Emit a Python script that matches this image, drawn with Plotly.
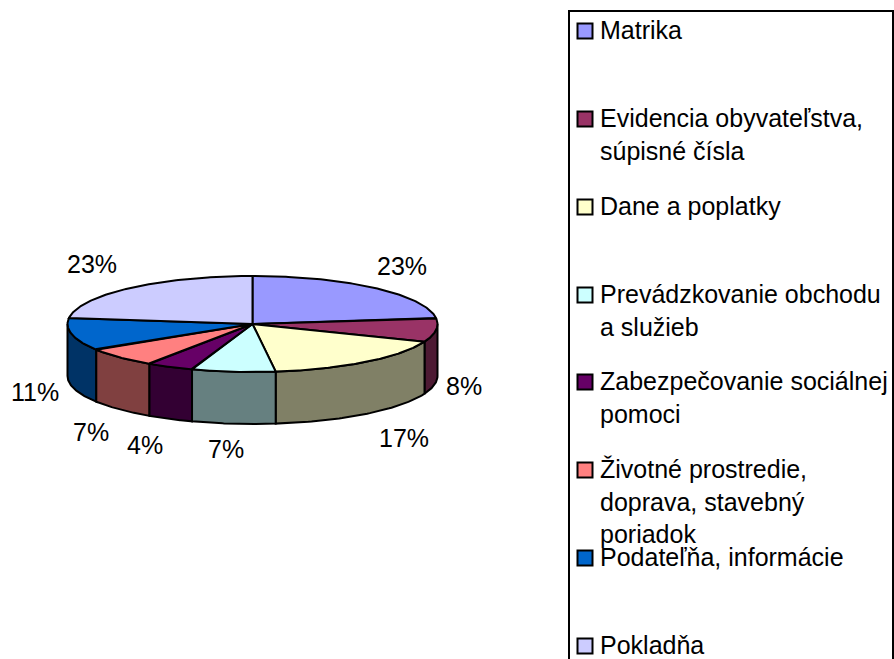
import numpy as np
import plotly.graph_objects as go

# ---- data ----
categories = ["Matrika", "Evidencia obyvateľstva,<br>súpisné čísla", "Dane a poplatky",
              "Prevádzkovanie obchodu<br>a služieb", "Zabezpečovanie sociálnej<br>pomoci",
              "Životné prostredie,<br>doprava, stavebný<br>poriadok",
              "Podateľňa, informácie", "Pokladňa"]
shares = [23, 8, 17, 7.3, 4.1, 6.6, 11, 23]
top_colors = ["#9999FF", "#993366", "#FFFFCC", "#CCFFFF", "#660066", "#FF8080", "#0066CC", "#CCCCFF"]
side_colors = ["#4D4D80", "#4D1A33", "#808066", "#668080", "#330033", "#804040", "#003366", "#666680"]

# ---- layout constants (pixels) ----
W, H = 894, 659
CX, CY, RX, RY, DEPTH = 252.5, 324, 185, 48, 52
OUT = 2
FONT = "Liberation Sans, Arial, sans-serif"
FS = 25
pct_positions = [(402, 266), (464, 386), (404, 438), (226, 449), (145, 445), (91, 432), (35, 392), (92, 264)]
legend_rows = [31, 119, 207, 295, 382, 470, 558, 646]
LEG_BOX = (569, 11, 893, 680)
LEG_SW_X, LEG_TXT_X, LEG_SW = 585, 598, 15


def pt(a, dy=0.0):
    return CX + RX * np.sin(a), CY - RY * np.cos(a) + dy


fig = go.Figure()
edges = np.cumsum([0] + shares) / sum(shares) * 2 * np.pi
slices = list(zip(edges[:-1], edges[1:], top_colors, side_colors))


def poly(x, y, color):
    fig.add_trace(go.Scatter(x=x, y=y, mode="lines", fill="toself", fillcolor=color,
                             line=dict(color="black", width=OUT), hoverinfo="skip", showlegend=False))


# side walls (only the front half of the rim is visible), drawn from the outside in
order = sorted(range(len(slices)), key=lambda i: abs((slices[i][0] + slices[i][1]) / 2 - np.pi), reverse=True)
for i in order:
    a0, a1, _, side = slices[i]
    lo, hi = max(a0, np.pi / 2), min(a1, 3 * np.pi / 2)
    if hi <= lo:
        continue
    t = np.linspace(lo, hi, 60)
    xt, yt = pt(t)
    xb, yb = pt(t[::-1], DEPTH)
    poly(np.r_[xt, xb, xt[0]], np.r_[yt, yb, yt[0]], side)

# top faces
for a0, a1, top, _ in slices:
    t = np.linspace(a0, a1, 120)
    xt, yt = pt(t)
    poly(np.r_[CX, xt, CX], np.r_[CY, yt, CY], top)

annotations = []
for v, (x, y) in zip(shares, pct_positions):
    annotations.append(dict(x=x, y=y, text=f"{round(v)}%", showarrow=False, xanchor="center", yanchor="middle",
                            font=dict(family=FONT, size=FS, color="black")))

# legend frame and entries
shapes = [dict(type="rect", x0=LEG_BOX[0], y0=LEG_BOX[1], x1=LEG_BOX[2], y1=LEG_BOX[3],
               line=dict(color="black", width=2), fillcolor="white", layer="below")]
fig.add_trace(go.Scatter(x=[LEG_SW_X] * len(legend_rows), y=legend_rows, mode="markers", hoverinfo="skip",
                         showlegend=False,
                         marker=dict(symbol="square", size=LEG_SW, color=top_colors,
                                     line=dict(color="black", width=2))))
for name, y in zip(categories, legend_rows):
    annotations.append(dict(x=LEG_TXT_X, y=y - 17, text=name, showarrow=False, xanchor="left", yanchor="top",
                            align="left", font=dict(family=FONT, size=FS, color="black")))

fig.update_layout(
    width=W, height=H, margin=dict(l=0, r=0, t=0, b=0), autosize=False,
    paper_bgcolor="white", plot_bgcolor="white", showlegend=False,
    xaxis=dict(range=[0, W], visible=False, fixedrange=True),
    yaxis=dict(range=[H, 0], visible=False, fixedrange=True),
    annotations=annotations, shapes=shapes,
)
fig.write_html("out.html", config=dict(displayModeBar=False),
               post_script="document.body.style.margin='0';document.body.style.overflow='hidden';")
